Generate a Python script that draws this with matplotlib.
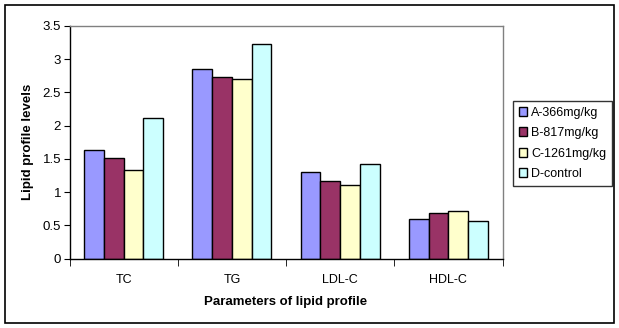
import numpy as np
import matplotlib.pyplot as plt
from matplotlib.patches import Rectangle

plt.rcParams['font.family'] = ['Liberation Sans', 'DejaVu Sans']

# data
categories = ['TC', 'TG', 'LDL-C', 'HDL-C']
series = ['A-366mg/kg', 'B-817mg/kg', 'C-1261mg/kg', 'D-control']
vals_a = [1.63, 2.86, 1.30, 0.60]
vals_b = [1.52, 2.73, 1.17, 0.69]
vals_c = [1.33, 2.70, 1.10, 0.72]
vals_d = [2.12, 3.23, 1.43, 0.57]
colors = ['#9999FF', '#993366', '#FFFFCC', '#CCFFFF']
yticks = [0, 0.5, 1, 1.5, 2, 2.5, 3, 3.5]

W, H = 619, 328
fig = plt.figure(figsize=(W / 100, H / 100), dpi=100)
ax = fig.add_axes([69.5 / W, 1 - 258.5 / H, (502.5 - 69.5) / W, (258.5 - 26) / H])

x = np.arange(len(categories))
bw = 0.1825
for i, (vals, c, lab) in enumerate(zip([vals_a, vals_b, vals_c, vals_d], colors, series)):
    ax.bar(x + (i - 1.5) * bw, vals, bw, color=c, edgecolor='black', linewidth=1.0, label=lab)

ax.set_xlim(-0.5, 3.5)
ax.set_ylim(0, 3.5)
ax.set_yticks(yticks)
ax.set_yticklabels(['0', '0.5', '1', '1.5', '2', '2.5', '3', '3.5'], fontsize=9.5)
ax.set_xticks(x)
ax.set_xticklabels(categories, fontsize=9)
ax.set_xticks(np.arange(-0.5, 4, 1), minor=True)
ax.tick_params(axis='x', which='major', length=0, pad=11)
ax.tick_params(axis='x', which='minor', length=5, direction='out', color='black')
ax.tick_params(axis='y', length=4, direction='out', pad=2)

for s in ['left', 'bottom']:
    ax.spines[s].set_color('black')
    ax.spines[s].set_linewidth(1.0)
for s in ['top', 'right']:
    ax.spines[s].set_color('#808080')
    ax.spines[s].set_linewidth(1.0)

ax.set_xlabel('Parameters of lipid profile', fontsize=9.5, fontweight='bold', labelpad=7)
ax.set_ylabel('Lipid profile levels', fontsize=9.5, fontweight='bold', labelpad=6)

leg = fig.legend(loc='upper left', bbox_to_anchor=(513 / W, 1 - 101 / H), fontsize=9,
                 frameon=True, fancybox=False, edgecolor='black', handlelength=0.7,
                 handleheight=0.7, handletextpad=0.3, borderpad=0.45, labelspacing=0.68,
                 borderaxespad=0)
leg.get_frame().set_linewidth(1.0)

# outer chart border
fig.patches.append(Rectangle((5 / W, 5 / H), (614 - 5) / W, (323 - 5) / H,
                             transform=fig.transFigure, fill=False,
                             edgecolor='black', linewidth=1.2))

fig.savefig('out.png', dpi=100)
